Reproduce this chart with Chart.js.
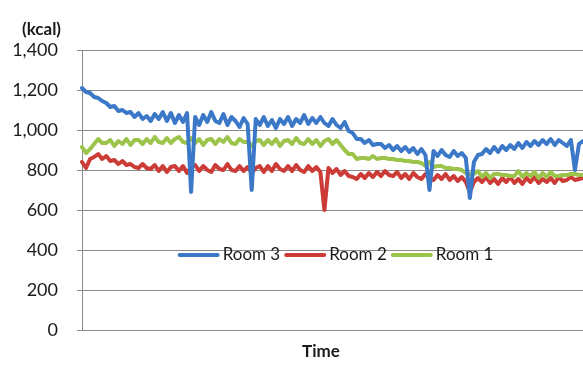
<!DOCTYPE html>
<html>
<head>
<meta charset="utf-8">
<script src="https://cdn.jsdelivr.net/npm/chart.js@4.4.0/dist/chart.umd.min.js"></script>
<style>
    html, body { margin: 0; padding: 0; background: #fff; overflow: hidden; }
    #wrap { width: 583px; height: 369px; position: relative; }
</style>
</head>
<body>
<div id="wrap"><canvas id="room-chart"></canvas></div>
<script>
// hourly readings, kcal
const room3 = [
    1210, 1190, 1185, 1165, 1160, 1145,
    1135, 1115, 1120, 1095, 1100, 1085, 1090,
    1065, 1085, 1055, 1070, 1045, 1080, 1055,
    1090, 1045, 1085, 1035, 1075, 1040, 1085,
    690,
    1065, 1025, 1075, 1040, 1090, 1045, 1035, 1080, 1025, 1065, 1045, 1015, 1060, 1030,
    700,
    1055, 1025, 1065, 1020, 1050, 1010, 1055, 1030, 1065, 1020, 1055, 1035, 1075, 1030, 1060, 1035, 1065,
    1035, 1020, 1055, 1025, 1010,
    1040, 995, 985, 955, 955, 935,
    950, 925, 930, 930, 910, 925, 900, 920, 895,
    915, 890, 910, 880, 905, 875, 700, 895, 870, 900, 875, 865, 895, 870, 885, 860,
    660,
    840, 875, 880,
    905, 885, 915, 890, 920, 900, 925, 905, 935, 910, 940,
    920, 945, 925, 950, 930, 955, 925, 950, 935, 920, 950,
    800,
    930, 945
];

const room2 = [
    840, 810, 855, 865, 880,
    855, 870, 845, 850, 830, 845, 825, 830,
    815, 810, 830, 810, 805, 825, 795, 820,
    790, 815, 820, 795, 820, 785, 815, 825, 795, 820,
    800, 790, 825, 805, 800, 830, 800, 795, 820, 795,
    815, 785, 810, 820, 790, 820, 795, 830, 805, 795,
    820, 795, 825, 800, 790, 820, 795, 815, 790,
    600,
    810, 785, 805, 775, 795, 770,
    765, 755, 780, 760, 785, 765, 790, 770, 795,
    775, 770, 790, 760, 780, 755, 785, 765, 755, 780,
    760, 750, 775, 755, 780, 750, 770, 745, 765, 740,
    690,
    740, 760, 740, 765, 735, 755, 730, 760, 740,
    765, 735, 755, 730, 760, 740, 765, 735, 755, 740,
    760, 735, 765, 745, 750, 765, 750, 755, 760
];

const room1 = [
    915, 885, 905, 930, 955,
    935, 935, 950, 920, 945, 930, 955, 925,
    950, 950, 930, 955, 935, 965, 940, 935,
    960, 935, 955, 965, 940, 935, 960, 935, 955, 925,
    950, 955, 930, 955, 940, 965, 935, 930, 955, 940,
    940, 920, 945, 950, 925, 950, 930, 955, 920, 945,
    950, 930, 960, 935, 930, 955, 930, 950, 920, 945,
    955, 930, 950, 925, 900, 880,
    880, 855, 860, 860, 855, 870, 855, 860, 860,
    855, 855, 850, 850, 845, 845, 840, 840, 835, 820,
    840, 815, 820, 820, 810, 810, 805, 805, 800, 785,
    780, 780, 795, 765, 785, 760, 780, 780, 775, 775,
    770, 770, 795, 765, 785, 770, 790, 760, 785, 765,
    790, 770, 770, 775, 775, 780, 780, 775, 775
];

const seriesNames = ['Room 3', 'Room 2', 'Room 1'];
const seriesColors = ['#3b78c8', '#cc3b36', '#9cc34a'];
const yMin = 0;
const yMax = 1400;
const yStep = 200;
const legendLevel = 400;
const unitLabel = '(kcal)';
const xTitle = 'Time';

const timeSteps = room3.map((v, i) => i + 1);

const textLabels = {
    id: 'textLabels',
    afterDraw(chart) {
        const ctx = chart.ctx;
        const area = chart.chartArea;
        ctx.save();
        ctx.fillStyle = '#1a1a1a';
        ctx.font = 'bold 17px Lato';
        ctx.textBaseline = 'middle';
        ctx.textAlign = 'left';
        ctx.fillText(unitLabel, 22, 30);
        ctx.textAlign = 'center';
        ctx.fillText(xTitle, area.left + 239, 352);
        ctx.restore();
    }
};

// legend sits inside the plot, on the 400 gridline
const insideLegend = {
    id: 'insideLegend',
    afterDraw(chart) {
        const ctx = chart.ctx;
        const area = chart.chartArea;
        const y = chart.scales.y.getPixelForValue(legendLevel) + 5;
        const sample = 42, gapText = 3, gapItem = 4;
        ctx.save();
        ctx.font = '17px Lato';
        const items = chart.data.datasets.map(ds => ({
            label: ds.label,
            color: ds.borderColor,
            w: ctx.measureText(ds.label).width
        }));
        const total = items.reduce((s, it) => s + sample + gapText + it.w, 0) + gapItem * (items.length - 1);
        let x = (area.left + area.right) / 2 + 3 - total / 2;
        ctx.textBaseline = 'middle';
        ctx.textAlign = 'left';
        items.forEach(it => {
            ctx.strokeStyle = it.color;
            ctx.lineWidth = 4;
            ctx.lineCap = 'round';
            ctx.beginPath();
            ctx.moveTo(x + 2, y);
            ctx.lineTo(x + sample - 2, y);
            ctx.stroke();
            x += sample + gapText;
            ctx.fillStyle = '#1a1a1a';
            ctx.fillText(it.label, x, y);
            x += it.w + gapItem;
        });
        ctx.restore();
    }
};

const ctx = document.getElementById('room-chart').getContext('2d');
const roomChart = new Chart(ctx, {
    type: 'line',
    data: {
        labels: timeSteps,
        datasets: [
            { label: seriesNames[0], data: room3, borderColor: seriesColors[0], order: 0 },
            { label: seriesNames[1], data: room2, borderColor: seriesColors[1], order: 2 },
            { label: seriesNames[2], data: room1, borderColor: seriesColors[2], order: 1 },
        ]
    },
    options: {
        responsive: true,
        maintainAspectRatio: false,
        animation: false,
        layout: {
            padding: { top: 50, bottom: 39, left: 0, right: 0 }
        },
        elements: {
            line: { borderWidth: 4, tension: 0, borderJoinStyle: 'round', borderCapStyle: 'round' },
            point: { radius: 0 }
        },
        plugins: {
            legend: { display: false },
            tooltip: { enabled: false },
        },
        scales: {
            x: {
                ticks: { display: false },
                grid: { display: false, drawTicks: false },
                border: { display: true, color: '#8a8a8a', width: 1 }
            },
            y: {
                min: yMin,
                max: yMax,
                afterFit: scale => { scale.width = 82; },
                ticks: {
                    stepSize: yStep,
                    padding: 19,
                    color: '#1a1a1a',
                    font: { family: 'Lato', size: 18 },
                    callback: v => v.toLocaleString('en-US')
                },
                grid: { color: '#8a8a8a', lineWidth: 1, tickLength: 5 },
                border: { display: true, color: '#8a8a8a', width: 1 }
            }
        }
    },
    plugins: [textLabels, insideLegend]
});
</script>
</body>
</html>
